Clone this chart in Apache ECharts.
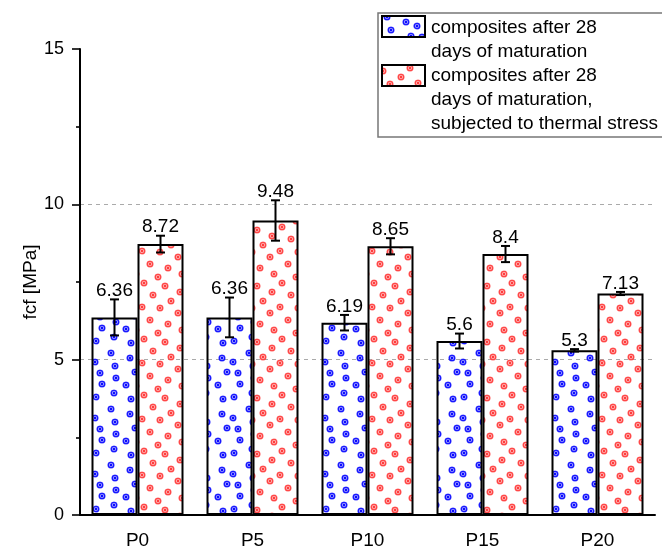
<!DOCTYPE html>
<html>
<head>
<meta charset="utf-8">
<script src="https://cdn.jsdelivr.net/npm/echarts@6/dist/echarts.min.js"></script>
<style>
  html, body { margin: 0; padding: 0; background: #fff; }
  #chart { width: 662px; height: 547px; }
</style>
</head>
<body>
<div id="chart"></div>
<script>
// values
const categories = ["P0", "P5", "P10", "P15", "P20"];
const maturedVals = [6.36, 6.36, 6.19, 5.6, 5.3];
const maturedErr = [0.58, 0.64, 0.25, 0.24, 0.04];
const thermalVals = [8.72, 9.48, 8.65, 8.4, 7.13];
const thermalErr = [0.27, 0.65, 0.26, 0.26, 0.05];
const seriesNames = [
  "composites after 28\ndays of maturation",
  "composites after 28\ndays of maturation,\nsubjected to thermal stress",
];

const FONT = '"Liberation Sans", Arial, sans-serif';

// dotted fill like the original plot (ring with centre dot)
function dotTile(rgb, pts, w, h) {
  const c = document.createElement("canvas");
  c.width = w;
  c.height = h;
  const ctx = c.getContext("2d");
  pts.forEach(([px, py]) => {
    for (let dx = -w; dx <= w; dx += w) {
      for (let dy = -h; dy <= h; dy += h) {
        const x = px + dx, y = py + dy;
        ctx.fillStyle = "rgba(" + rgb + ",0.35)";
        ctx.beginPath();
        ctx.arc(x, y, 3.6, 0, Math.PI * 2);
        ctx.fill();
        ctx.strokeStyle = "rgba(" + rgb + ",0.9)";
        ctx.lineWidth = 1.3;
        ctx.beginPath();
        ctx.arc(x, y, 2.7, 0, Math.PI * 2);
        ctx.stroke();
        ctx.fillStyle = "rgba(" + rgb + ",1)";
        ctx.beginPath();
        ctx.arc(x, y, 1.2, 0, Math.PI * 2);
        ctx.fill();
      }
    }
  });
  return c;
}

const bluePts = [[4, 5], [22, 1], [39, 7], [19, 17], [38, 22], [3, 26], [23, 30], [8, 37], [24, 42], [43, 36], [10, 48], [34, 49]];
const redPts = [[6, 3], [27, 6], [42, 12], [15, 15], [33, 21], [4, 27], [22, 28], [40, 33], [12, 40], [30, 44], [44, 50], [20, 53]];
const blueFill = { image: dotTile("10,10,255", bluePts, 46, 56), repeat: "repeat" };
const redFill = { image: dotTile("255,60,60", redPts, 46, 56), repeat: "repeat" };

function errRender(shift) {
  return function (params, api) {
    const x = api.value(0);
    const v = api.value(1);
    const e = api.value(2);
    const band = api.size([1, 0])[0];
    const cx = api.coord([x, v])[0] + shift * band;
    const top = api.coord([x, v + e])[1];
    const bot = api.coord([x, v - e])[1];
    const half = 4.5;
    const st = { stroke: "#000", lineWidth: 2 };
    return {
      type: "group",
      children: [
        { type: "line", shape: { x1: cx, y1: top, x2: cx, y2: bot }, style: st },
        { type: "line", shape: { x1: cx - half, y1: top, x2: cx + half, y2: top }, style: st },
        { type: "line", shape: { x1: cx - half, y1: bot, x2: cx + half, y2: bot }, style: st },
        {
          type: "text",
          style: {
            text: String(v), x: cx, y: top + 1, align: "center", verticalAlign: "bottom",
            font: "19px " + FONT, fill: "#000",
          },
        },
      ],
    };
  };
}

const errData = (vals, errs) => vals.map((v, i) => [i, v, errs[i]]);

const chart = echarts.init(document.getElementById("chart"), null, { renderer: "canvas" });

const option = {
  animation: false,
  backgroundColor: "#fff",
  grid: { left: 80, right: 7, top: 49, bottom: 32, outerBoundsMode: "none" },
  xAxis: [
    {
      type: "category",
      data: categories,
      axisLine: { lineStyle: { color: "#000", width: 2 } },
      axisTick: { alignWithLabel: true, length: 9, lineStyle: { color: "#000", width: 1.6 } },
      axisLabel: { color: "#000", fontSize: 19, fontFamily: FONT, margin: 16 },
    },
    {
      type: "category",
      data: categories,
      position: "bottom",
      axisLine: { show: false },
      axisTick: { length: 4, lineStyle: { color: "#000", width: 1.6 } },
      axisLabel: { show: false },
    },
  ],
  yAxis: {
    type: "value",
    min: 0,
    max: 15,
    interval: 5,
    name: "fcf [MPa]",
    nameLocation: "middle",
    nameGap: 40,
    nameMoveOverlap: false,
    nameTextStyle: { color: "#000", fontSize: 19, fontFamily: FONT },
    axisLine: { show: true, lineStyle: { color: "#000", width: 2 } },
    axisTick: { show: true, length: 8, lineStyle: { color: "#000", width: 1.6 } },
    minorTick: { show: true, splitNumber: 2, length: 4, lineStyle: { color: "#000", width: 1.6 } },
    axisLabel: { color: "#000", fontSize: 18, fontFamily: FONT, margin: 16 },
    splitLine: {
      show: true,
      lineStyle: { color: ["rgba(0,0,0,0)", "#aaa", "#aaa", "rgba(0,0,0,0)"], type: [4, 4], width: 1 },
    },
  },
  series: [
    {
      name: seriesNames[0],
      type: "bar",
      data: maturedVals,
      barGap: "0%",
      barCategoryGap: "20%",
      itemStyle: { color: blueFill, borderColor: "#000", borderWidth: 2 },
    },
    {
      name: seriesNames[1],
      type: "bar",
      data: thermalVals,
      itemStyle: { color: redFill, borderColor: "#000", borderWidth: 2 },
    },
    {
      type: "custom",
      renderItem: errRender(-0.2),
      data: errData(maturedVals, maturedErr),
      encode: { x: 0, y: 1 },
      clip: false,
      z: 5,
    },
    {
      type: "custom",
      renderItem: errRender(0.2),
      data: errData(thermalVals, thermalErr),
      encode: { x: 0, y: 1 },
      clip: false,
      z: 5,
    },
  ],
  graphic: [
    {
      type: "rect",
      shape: { x: 378, y: 13, width: 300, height: 124 },
      style: { fill: "#fff", stroke: "#777", lineWidth: 1.5 },
      z: 10,
    },
    {
      type: "rect",
      shape: { x: 382, y: 16, width: 43, height: 21 },
      style: { fill: blueFill, stroke: "#000", lineWidth: 2 },
      z: 11,
    },
    {
      type: "rect",
      shape: { x: 382, y: 65, width: 43, height: 21 },
      style: { fill: redFill, stroke: "#000", lineWidth: 2 },
      z: 11,
    },
    {
      type: "text",
      x: 431, y: 16,
      style: { text: seriesNames[0], font: "19px " + FONT, fill: "#000", lineHeight: 24 },
      z: 11,
    },
    {
      type: "text",
      x: 431, y: 64,
      style: { text: seriesNames[1], font: "19px " + FONT, fill: "#000", lineHeight: 24 },
      z: 11,
    },
  ],
};

chart.setOption(option);
</script>
</body>
</html>
